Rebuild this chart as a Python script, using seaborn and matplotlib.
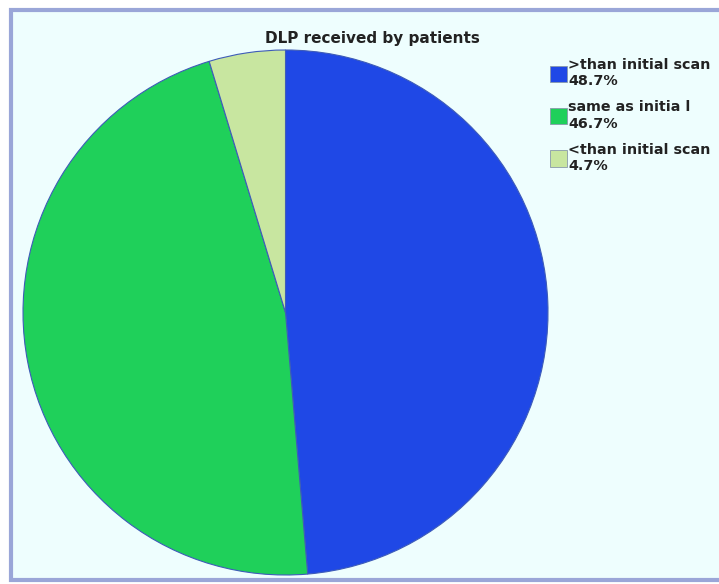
import matplotlib.pyplot as plt
import matplotlib.patches as mpatches
import seaborn as sns

sns.set_theme(style="white")
plt.rcParams['font.family'] = ['DejaVu Sans']

labels = ['>than initial scan', 'same as initia l', '<than initial scan']
values = [48.7, 46.7, 4.7]
colors = ['#1f48e6', '#1fd05a', '#c8e6a0']

bg = '#eefefe'

fig = plt.figure(figsize=(7.19, 5.84), dpi=100)
fig.patch.set_facecolor('white')

# outer frame of the chart area
frame = mpatches.Rectangle((11 / 719, 4 / 584), 712 / 719, 570 / 584,
                           transform=fig.transFigure, facecolor=bg,
                           edgecolor='#9aa6d8', linewidth=3, zorder=-10)
fig.patches.append(frame)

ax = fig.add_axes([23 / 719, 9 / 584, 525 / 719, 525 / 584])
ax.set_facecolor('none')
wedges, _ = ax.pie(values, colors=colors, startangle=90, counterclock=False,
                   wedgeprops=dict(edgecolor='#3e5cb8', linewidth=0.8),
                   radius=1.0)
ax.set_xlim(-1.0, 1.0)
ax.set_ylim(-1.0, 1.0)
ax.set_aspect('equal')

fig.text(372 / 719, 1 - 38 / 584, 'DLP received by patients',
         ha='center', va='center', fontsize=11, fontweight='bold', color='#222222')

leg_labels = [f'{l}\n{v}%' for l, v in zip(labels, values)]
handles = [mpatches.Patch(facecolor=c, edgecolor='#8899aa', linewidth=0.6) for c in colors]
fig.legend(handles, leg_labels, loc='upper left',
           bbox_to_anchor=(540 / 719, 1 - 48 / 584), frameon=False,
           prop=dict(size=10.3, weight='bold'), handlelength=1.2, handleheight=1.4,
           handletextpad=0.08, labelspacing=0.85, borderpad=0.2,
           labelcolor='#222222')

fig.savefig('out.png', dpi=100, facecolor=fig.get_facecolor())
